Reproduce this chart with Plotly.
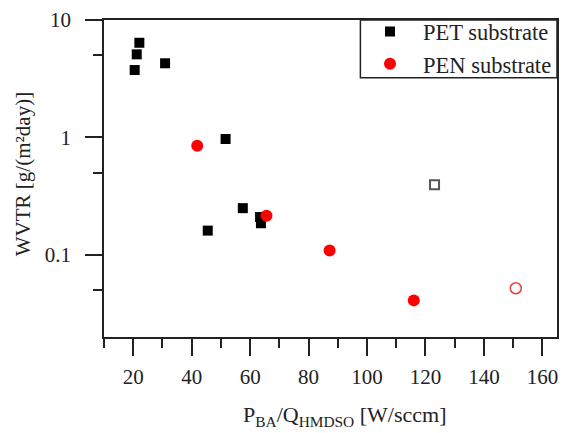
import plotly.graph_objects as go

# WVTR of coated films vs. plasma power / HMDSO flow ratio
pet_x = [20.5, 21.2, 22.1, 30.9, 45.5, 51.6, 57.5, 63.4, 63.7]
pet_y = [3.75, 5.1, 6.4, 4.28, 0.161, 0.97, 0.25, 0.21, 0.186]
pet_open_x = [123.1]
pet_open_y = [0.395]

pen_x = [41.9, 65.6, 87.2, 116.0]
pen_y = [0.85, 0.215, 0.109, 0.041]
pen_open_x = [150.9]
pen_open_y = [0.052]

x_ticks = [20, 40, 60, 80, 100, 120, 140, 160]
x_minor = [10, 30, 50, 70, 90, 110, 130, 150]
y_ticks = [0.1, 1, 10]
y_tick_text = ["0.1", "1", "10"]
y_minor = [0.05, 0.5, 5]

FONT = "Liberation Serif, Times New Roman, DejaVu Serif, serif"
INK = "#222222"

fig = go.Figure()
fig.add_trace(go.Scatter(
    x=pet_x, y=pet_y, mode="markers", name="PET substrate",
    marker=dict(symbol="square", size=10, color="black", line=dict(width=0)),
))
fig.add_trace(go.Scatter(
    x=pen_x, y=pen_y, mode="markers", name="PEN substrate",
    marker=dict(symbol="circle", size=12, color="#ff0000", line=dict(width=0)),
))
fig.add_trace(go.Scatter(
    x=pet_open_x, y=pet_open_y, mode="markers", showlegend=False,
    marker=dict(symbol="square-open", size=9, color="#555555", line=dict(width=2)),
))
fig.add_trace(go.Scatter(
    x=pen_open_x, y=pen_open_y, mode="markers", showlegend=False,
    marker=dict(symbol="circle-open", size=11, color="#e04040", line=dict(width=1.5)),
))

axis_common = dict(
    showline=True, linecolor=INK, linewidth=1.5, mirror=True,
    ticks="outside", ticklen=17, tickwidth=1.5, tickcolor=INK,
    showgrid=False, zeroline=False,
    tickfont=dict(family=FONT, size=21, color=INK),
)

fig.update_xaxes(
    range=[10, 165], tickmode="array", tickvals=x_ticks,
    minor=dict(tickmode="array", tickvals=x_minor, ticklen=9,
               tickwidth=1.5, tickcolor=INK, ticks="outside"),
    ticklabelstandoff=3,
    **axis_common,
)
fig.update_yaxes(
    type="log", range=[-1.699, 1], tickmode="array",
    tickvals=y_ticks, ticktext=y_tick_text,
    minor=dict(tickmode="array", tickvals=y_minor, ticklen=9,
               tickwidth=1.5, tickcolor=INK, ticks="outside"),
    ticklabelstandoff=10,
    **axis_common,
)

fig.add_annotation(
    text="P<sub>BA</sub>/Q<sub>HMDSO</sub> [W/sccm]",
    xref="paper", yref="paper", x=0.53, y=-0.2,
    xanchor="center", yanchor="top", showarrow=False,
    font=dict(family=FONT, size=22, color=INK),
)
fig.add_annotation(
    text="WVTR [g/(m²day)]",
    xref="paper", yref="paper", x=-0.18, y=0.515,
    xanchor="center", yanchor="middle", textangle=-90, showarrow=False,
    font=dict(family=FONT, size=21, color=INK),
)

# legend frame in the upper-right corner of the plot area
fig.add_shape(
    type="rect", xref="paper", yref="paper",
    x0=0.566, x1=1.0, y0=0.818, y1=1.0,
    line=dict(color=INK, width=1.5), fillcolor="white", layer="below",
)

fig.update_layout(
    width=564, height=433,
    margin=dict(l=104, r=5, t=20, b=96),
    paper_bgcolor="white", plot_bgcolor="white",
    legend=dict(
        x=1, y=1.03, xanchor="right", yanchor="top",
        borderwidth=0, bgcolor="rgba(0,0,0,0)",
        font=dict(family=FONT, size=22.5, color=INK),
        itemwidth=56, tracegroupgap=0,
    ),
    showlegend=True,
)

fig.write_html("out.html")
